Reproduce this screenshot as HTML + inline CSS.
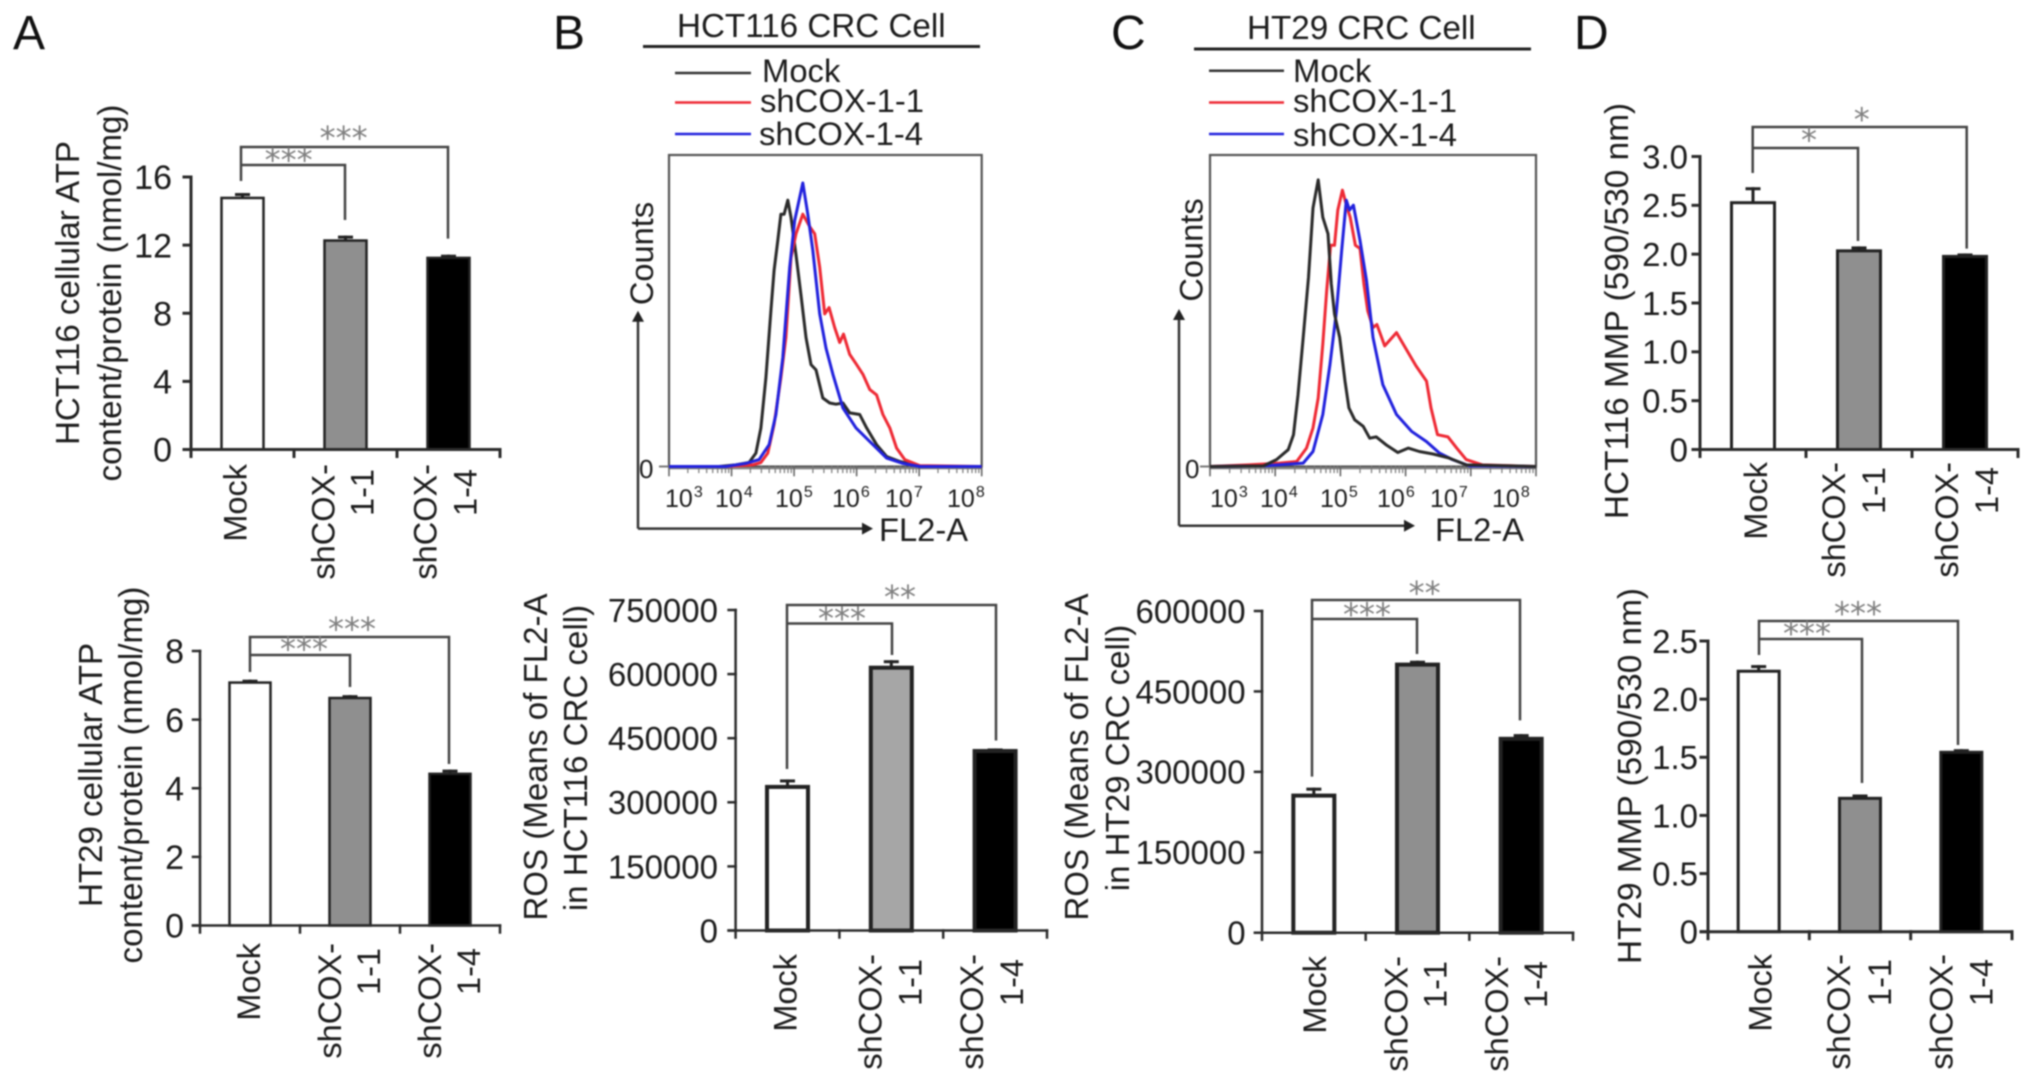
<!DOCTYPE html>
<html lang="en">
<head>
<meta charset="utf-8">
<title>ATP, ROS and MMP in shCOX-1 colorectal cancer cells</title>
<style>
html,body{margin:0;padding:0;background:#fff;width:2032px;height:1084px;overflow:hidden}
svg{display:block;filter:blur(0.8px)}
text{font-family:"Liberation Sans",Arial,sans-serif;fill:#1c1c1c}
.panel{font-size:48px;fill:#111}
.title{font-size:33.1px;text-anchor:middle}
.head{font-size:33.2px}
.leg{font-size:32.8px}
</style>
</head>
<body>
<svg id="figure" xmlns="http://www.w3.org/2000/svg" width="2032" height="1084" viewBox="0 0 2032 1084">
  <rect x="0" y="0" width="2032" height="1084" fill="#fff"/>

  <text class="panel" x="13" y="49">A</text>
  <text class="panel" x="553" y="49">B</text>
  <text class="panel" x="1111" y="49">C</text>
  <text class="panel" x="1574" y="49">D</text>

  <text class="title" transform="translate(79,293) rotate(-90)">HCT116 cellular ATP</text>
  <text class="title" transform="translate(121,293) rotate(-90)">content/protein (nmol/mg)</text>
  <text class="title" transform="translate(102,775) rotate(-90)">HT29 cellular ATP</text>
  <text class="title" transform="translate(142,775) rotate(-90)">content/protein (nmol/mg)</text>
  <text class="title" transform="translate(547,757) rotate(-90)">ROS (Means of FL2-A</text>
  <text class="title" transform="translate(587,758) rotate(-90)">in HCT116 CRC cell)</text>
  <text class="title" transform="translate(1088,757) rotate(-90)">ROS (Means of FL2-A</text>
  <text class="title" transform="translate(1129,758) rotate(-90)">in HT29 CRC cell)</text>
  <text class="title" style="font-size:33.4px" transform="translate(1628,311) rotate(-90)">HCT116 MMP (590/530 nm)</text>
  <text class="title" style="font-size:33.4px" transform="translate(1641,776) rotate(-90)">HT29 MMP (590/530 nm)</text>

  <text class="head" x="677" y="37">HCT116 CRC Cell</text>
  <line x1="643" y1="46.5" x2="980" y2="46.5" stroke="#222" stroke-width="3"/>
  <text class="head" x="1247" y="39">HT29 CRC Cell</text>
  <line x1="1194" y1="49" x2="1531" y2="49" stroke="#222" stroke-width="3"/>

  <line x1="675" y1="73" x2="751" y2="73" stroke="#333" stroke-width="2.5"/>
  <line x1="675" y1="102.5" x2="751" y2="102.5" stroke="#ee2a35" stroke-width="2.5"/>
  <line x1="675" y1="134" x2="751" y2="134" stroke="#2222dd" stroke-width="2.5"/>
  <text class="leg" x="762" y="82">Mock</text>
  <text class="leg" x="760" y="112">shCOX-1-1</text>
  <text class="leg" x="759" y="145">shCOX-1-4</text>

  <line x1="1209" y1="70.7" x2="1284" y2="70.7" stroke="#333" stroke-width="2.5"/>
  <line x1="1209" y1="102.5" x2="1284" y2="102.5" stroke="#ee2a35" stroke-width="2.5"/>
  <line x1="1209" y1="134" x2="1284" y2="134" stroke="#2222dd" stroke-width="2.5"/>
  <text class="leg" x="1293" y="82">Mock</text>
  <text class="leg" x="1293" y="112">shCOX-1-1</text>
  <text class="leg" x="1293" y="146">shCOX-1-4</text>

  <text class="title" style="font-size:32.6px" transform="translate(653,253.5) rotate(-90)">Counts</text>
  <text style="font-size:32.7px" x="879" y="541">FL2-A</text>
  <text class="title" style="font-size:32.6px" transform="translate(1202.7,250) rotate(-90)">Counts</text>
  <text style="font-size:32.7px" x="1435" y="541">FL2-A</text>
</svg>

<script>
/* ---------- bar chart data ---------- */
const barCategories = [['Mock'], ['shCOX-', '1-1'], ['shCOX-', '1-4']];

const a1Values = [14.77, 12.27, 11.25];
const a1Errors = [0.2, 0.2, 0.1];
const a1Ticks = [0, 4, 8, 12, 16];

const a2Values = [7.08, 6.63, 4.42];
const a2Errors = [0.04, 0.04, 0.08];
const a2Ticks = [0, 2, 4, 6, 8];

const bValues = [336000, 615000, 420000];
const bErrors = [14000, 14000, 2500];
const bTicks = [0, 150000, 300000, 450000, 600000, 750000];

const cValues = [255700, 500000, 361600];
const cErrors = [12000, 4500, 6000];
const cTicks = [0, 150000, 300000, 450000, 600000];

const d1Values = [2.527, 2.034, 1.977];
const d1Errors = [0.143, 0.03, 0.015];
const d1Ticks = ['0', '0.5', '1.0', '1.5', '2.0', '2.5', '3.0'];

const d2Values = [2.24, 1.147, 1.543];
const d2Errors = [0.04, 0.02, 0.014];
const d2Ticks = ['0', '0.5', '1.0', '1.5', '2.0', '2.5'];

/* ---------- flow cytometry data: log10(FL2-A) and % of plot height ---------- */
const flowExponents = [3, 4, 5, 6, 7, 8];

const bMockLog = [3.00,3.80,4.07,4.28,4.39,4.47,4.55,4.63,4.68,4.74,4.79,4.84,4.90,4.95,5.03,5.11,5.19,5.27,5.35,5.46,5.57,5.67,5.78,5.89,6.05,6.16,6.32,6.48,6.69,7.01,8.00];
const bMockCounts = [0,0,0.5,1.3,4.3,12.4,28.5,50,63,72.6,81,81,85.5,80,68,55,41.4,32.7,31,22,20.4,20,20.4,17.2,16.7,12.4,7,3.2,1.6,0,0];
const bSh1Log = [3.00,3.91,4.34,4.47,4.58,4.68,4.79,4.87,4.95,5.03,5.14,5.25,5.33,5.41,5.49,5.56,5.65,5.73,5.79,5.89,5.99,6.10,6.21,6.32,6.42,6.53,6.64,6.77,7.01,8.00];
const bSh1Counts = [0,0,0.5,1.3,4.3,13.5,28.5,41.4,67,74.7,81,77,74.7,64,49,51,44.6,39.8,42.5,36,33,29.6,24.7,23,16.7,12.4,5.9,2.2,0.3,0];
const bSh4Log = [3.00,3.91,4.23,4.44,4.60,4.71,4.82,4.93,5.01,5.14,5.22,5.30,5.41,5.51,5.62,5.78,5.99,6.21,6.48,6.74,7.01,8.00];
const bSh4Counts = [0,0,1,2.2,7,16.7,35,64,79,91,81,69.4,49,38,29.6,18.8,12.4,8,2.7,1,0,0];

const cMockLog = [3.00,3.82,4.02,4.20,4.28,4.35,4.43,4.51,4.58,4.66,4.73,4.81,4.86,4.91,4.99,5.07,5.13,5.22,5.35,5.45,5.55,5.70,5.88,6.04,6.21,6.42,6.67,6.93,8.00];
const cMockCounts = [0,0.2,2.2,5.4,10.2,23,41.4,60.7,83,92,80,74.7,58.6,49,41.4,27.4,18.8,15,12.9,9.1,9.5,7,4.5,5.9,4.8,4,2.7,0.5,0];
const cSh1Log = [3.00,3.59,4.07,4.33,4.48,4.58,4.66,4.73,4.79,4.85,4.91,4.96,5.03,5.10,5.15,5.23,5.30,5.36,5.42,5.50,5.56,5.68,5.86,6.01,6.16,6.32,6.39,6.49,6.65,6.78,6.93,7.18,8.00];
const cSh1Counts = [0,0.5,1.1,1.6,5.9,12.4,22,39.3,56.5,71,71,82.3,88.7,83.3,80,71,70,58.6,49.9,44.6,45.6,38.7,43,37.6,32.3,27.4,18.8,10.2,9.5,6,2.2,0.5,0];
const cSh4Log = [3.00,3.82,4.43,4.58,4.73,4.84,4.94,5.02,5.09,5.14,5.20,5.30,5.40,5.50,5.65,5.86,6.09,6.32,6.52,6.72,6.98,8.00];
const cSh4Counts = [0,0.2,1.1,4.8,16.7,32.8,50,69.4,85.5,82.3,83.9,72.6,59.7,41.4,26.3,16.7,11.3,8,4.3,2.2,0.2,0];

/* ---------- helpers ---------- */
const svg = document.getElementById('figure');
const NS = 'http://www.w3.org/2000/svg';

function draw(tag, name, attrs, txt) {
  const el = document.createElementNS(NS, tag);
  
  
  for (const k in attrs) el.setAttribute(k, attrs[k]);
  if (txt !== undefined) el.textContent = txt;
  svg.appendChild(el);
  return el;
}
function hairline(name, x1, y1, x2, y2, stroke, w) {
  return draw('line', name, {x1: x1, y1: y1, x2: x2, y2: y2, stroke: stroke, 'stroke-width': w, 'stroke-linecap': 'square'});
}

/* ---------- bar panels ---------- */
function barPanel(id, values, errors, ticks, layout) {
  const yMax = Number(ticks[ticks.length - 1]);
  const yScale = v => layout.y0 - (v / yMax) * (layout.y0 - layout.yTop);
  const band = (layout.xEnd - layout.axisX) / values.length;
  const xCenter = i => layout.axisX + band * (i + 0.5) + layout.barShift;
  const axisW = layout.axisWidth;

  values.forEach(function (v, i) {
    const cx = xCenter(i);
    const top = yScale(v);
    const errTop = yScale(v + errors[i]);
    hairline(id + '-error-bar-' + i, cx, top, cx, errTop, '#222', 3);
    hairline(id + '-error-cap-' + i, cx - 6, errTop, cx + 6, errTop, '#222', 3);
    draw('rect', id + '-bar-' + i, {
      x: cx - layout.barW / 2, y: top, width: layout.barW, height: layout.y0 - top,
      fill: layout.fills[i], stroke: '#222', 'stroke-width': layout.barStroke
    });
  });

  hairline(id + '-y-axis', layout.axisX, layout.yTop, layout.axisX, layout.y0, '#2b2b2b', axisW);
  hairline(id + '-x-axis', layout.axisX - 7, layout.y0, layout.xEnd, layout.y0, '#2b2b2b', axisW);

  ticks.forEach(function (t) {
    const y = yScale(Number(t));
    hairline(id + '-y-tick', layout.axisX - 7, y, layout.axisX, y, '#2b2b2b', axisW);
    draw('text', id + '-y-tick-label', {
      x: layout.tickRight, y: y + layout.tickFont * 0.36, 'text-anchor': 'end', 'font-size': layout.tickFont
    }, String(t));
  });

  for (let i = 0; i <= values.length; i++) {
    const x = layout.axisX + band * i;
    hairline(id + '-x-tick', x, layout.y0, x, layout.y0 + 7, '#2b2b2b', axisW);
  }

  barCategories.forEach(function (lines, i) {
    lines.forEach(function (line, j) {
      const bx = layout.axisX + band * (i + 0.5) + layout.labelDx[i][j];
      const by = j === 0 ? layout.labelEnd : layout.labelEnd + 5;
      draw('text', id + '-category-label', {
        transform: 'translate(' + bx + ',' + by + ') rotate(-90)', 'text-anchor': 'end', 'font-size': 32.5
      }, line);
    });
  });

  layout.brackets.forEach(function (b, i) {
    const d = 'M' + b.left + ' ' + b.leftEnd + ' V' + b.y + ' H' + b.right + ' V' + b.rightEnd;
    draw('path', id + '-significance-bracket-' + i, {d: d, fill: 'none', stroke: '#444', 'stroke-width': 2.5});
    draw('text', id + '-significance-stars-' + i, {
      x: b.starX, y: b.starY + 16, 'text-anchor': 'middle', 'font-size': 32,
      style: 'font-family:"DejaVu Sans",sans-serif;fill:#808080'
    }, b.stars);
  });
}

barPanel('a1', a1Values, a1Errors, a1Ticks, {
  axisX: 191, xEnd: 500, y0: 449.5, yTop: 177, barShift: 0, barW: 42, barStroke: 2.5, axisWidth: 3,
  fills: ['#fff', '#8f8f8f', '#000'], tickRight: 172, tickFont: 34, labelEnd: 464,
  labelDx: [[4], [-11, 28], [-12, 28]],
  brackets: [
    {left: 241, right: 448, y: 147, leftEnd: 181, rightEnd: 238.6, stars: '***', starX: 343.6, starY: 133},
    {left: 241, right: 345, y: 165, leftEnd: 165, rightEnd: 220, stars: '***', starX: 288.6, starY: 155}
  ]
});
barPanel('a2', a2Values, a2Errors, a2Ticks, {
  axisX: 200, xEnd: 500, y0: 925.5, yTop: 651, barShift: 0, barW: 41, barStroke: 2.5, axisWidth: 2.5,
  fills: ['#fff', '#8f8f8f', '#000'], tickRight: 184, tickFont: 34, labelEnd: 943,
  labelDx: [[10], [-9, 30], [-9, 30]],
  brackets: [
    {left: 250, right: 449, y: 637, leftEnd: 672, rightEnd: 764, stars: '***', starX: 352, starY: 624},
    {left: 250, right: 350, y: 655, leftEnd: 655, rightEnd: 687, stars: '***', starX: 304, starY: 644}
  ]
});
barPanel('b', bValues, bErrors, bTicks, {
  axisX: 735.6, xEnd: 1047, y0: 930.5, yTop: 610, barShift: 0, barW: 41, barStroke: 4, axisWidth: 2.5,
  fills: ['#fff', '#a6a6a6', '#000'], tickRight: 718, tickFont: 33, labelEnd: 954,
  labelDx: [[9], [-10, 30], [-12, 28]],
  brackets: [
    {left: 787, right: 996, y: 605, leftEnd: 769, rightEnd: 740.5, stars: '**', starX: 900, starY: 592},
    {left: 787, right: 892, y: 623.5, leftEnd: 623.5, rightEnd: 655, stars: '***', starX: 842, starY: 613.5}
  ]
});
barPanel('c', cValues, cErrors, cTicks, {
  axisX: 1262, xEnd: 1573, y0: 932.7, yTop: 611, barShift: 0, barW: 41, barStroke: 4, axisWidth: 2.5,
  fills: ['#fff', '#8f8f8f', '#000'], tickRight: 1245.6, tickFont: 33, labelEnd: 956,
  labelDx: [[12], [-10, 29], [-13, 26]],
  brackets: [
    {left: 1312, right: 1520, y: 600, leftEnd: 776.6, rightEnd: 720.4, stars: '**', starX: 1424.6, starY: 588},
    {left: 1312, right: 1417, y: 619, leftEnd: 619, rightEnd: 654, stars: '***', starX: 1367, starY: 609.5}
  ]
});
barPanel('d1', d1Values, d1Errors, d1Ticks, {
  axisX: 1700, xEnd: 2018, y0: 449.5, yTop: 156.5, barShift: 0, barW: 43, barStroke: 3, axisWidth: 3,
  fills: ['#fff', '#8f8f8f', '#000'], tickRight: 1688, tickFont: 33, labelEnd: 462,
  labelDx: [[14], [-14, 26], [-7, 33]],
  brackets: [
    {left: 1752.7, right: 1966.7, y: 127, leftEnd: 173, rightEnd: 248.6, stars: '*', starX: 1861.7, starY: 114.7},
    {left: 1752.7, right: 1858, y: 148, leftEnd: 148, rightEnd: 241, stars: '*', starX: 1809, starY: 135}
  ]
});
barPanel('d2', d2Values, d2Errors, d2Ticks, {
  axisX: 1708, xEnd: 2012, y0: 931.7, yTop: 641, barShift: 0, barW: 41, barStroke: 3, axisWidth: 3,
  fills: ['#fff', '#8f8f8f', '#000'], tickRight: 1698, tickFont: 33, labelEnd: 954,
  labelDx: [[13], [-10, 31], [-9, 31]],
  brackets: [
    {left: 1759, right: 1958, y: 621, leftEnd: 655, rightEnd: 745, stars: '***', starX: 1858, starY: 608.5},
    {left: 1759, right: 1862, y: 639, leftEnd: 639, rightEnd: 783, stars: '***', starX: 1807, starY: 628.5}
  ]
});

/* ---------- flow histograms ---------- */
function flowPanel(id, series, layout) {
  const xScale = d => layout.left + (d - 3) / 5 * (layout.right - layout.left);
  const yScale = c => layout.base - (c / 100) * (layout.base - layout.top);

  draw('rect', id + '-plot-frame', {
    x: layout.left, y: layout.top, width: layout.right - layout.left, height: layout.base - layout.top,
    fill: '#fff', stroke: '#555', 'stroke-width': 2.2
  });

  hairline(id + '-zero-tick', layout.left - 9, layout.base, layout.left, layout.base, '#777', 2);
  draw('text', id + '-zero-label', {x: layout.zeroX, y: 478, 'font-size': 26}, '0');
  hairline(id + '-x-tick-rule', layout.left, layout.base + 2, layout.right, layout.base + 2, '#777', 1.5);

  flowExponents.forEach(function (e, i) {
    const mx = xScale(e);
    hairline(id + '-x-major-tick', mx, layout.base, mx, layout.base + 9, '#666', 1.6);
    if (e < 8) {
      for (let m = 2; m <= 9; m++) {
        const tx = xScale(e + Math.log10(m));
        hairline(id + '-x-minor-tick', tx, layout.base, tx, layout.base + 6, '#777', 1.2);
      }
    }
    const label = draw('text', id + '-x-tick-label', {x: layout.labelX[i], y: 507, 'font-size': 25});
    const base = document.createElementNS(NS, 'tspan');
    base.textContent = '10';
    label.appendChild(base);
    const sup = document.createElementNS(NS, 'tspan');
    sup.setAttribute('font-size', '16');
    sup.setAttribute('dy', '-10');
    sup.setAttribute('dx', '1');
    sup.textContent = String(e);
    label.appendChild(sup);
  });

  series.forEach(function (s) {
    const pts = s.log.map(function (d, i) { return xScale(d).toFixed(1) + ',' + yScale(s.counts[i]).toFixed(1); }).join(' ');
    draw('polyline', id + '-histogram-' + s.name, {
      points: pts, fill: 'none', stroke: s.color, 'stroke-width': 3, 'stroke-linejoin': 'round'
    });
  });

  const a = layout.arrow;
  draw('path', id + '-counts-arrow', {
    d: 'M' + a.x + ' ' + a.bottom + ' V' + (a.top + 6), fill: 'none', stroke: '#333', 'stroke-width': 2.5
  });
  draw('path', id + '-counts-arrowhead', {
    d: 'M' + a.x + ' ' + a.top + ' l-6 11 h12 z', fill: '#222'
  });
  draw('path', id + '-fl2-arrow', {
    d: 'M' + a.x + ' ' + a.bottom + ' H' + (a.end - 6), fill: 'none', stroke: '#333', 'stroke-width': 2.5
  });
  draw('path', id + '-fl2-arrowhead', {
    d: 'M' + a.end + ' ' + a.bottom + ' l-11 -6 v12 z', fill: '#222'
  });
}

flowPanel('b', [
  {name: 'mock', log: bMockLog, counts: bMockCounts, color: '#2a2a2a'},
  {name: 'shcox-1-1', log: bSh1Log, counts: bSh1Counts, color: '#ee2a35'},
  {name: 'shcox-1-4', log: bSh4Log, counts: bSh4Counts, color: '#2222dd'}
], {
  left: 669, right: 981.7, top: 155, base: 466.5, zeroX: 639,
  labelX: [665, 715, 775, 832, 885, 947],
  arrow: {x: 638, top: 310.7, bottom: 528.6, end: 873}
});
flowPanel('c', [
  {name: 'shcox-1-1', log: cSh1Log, counts: cSh1Counts, color: '#ee2a35'},
  {name: 'shcox-1-4', log: cSh4Log, counts: cSh4Counts, color: '#2222dd'},
  {name: 'mock', log: cMockLog, counts: cMockCounts, color: '#2a2a2a'}
], {
  left: 1210, right: 1536, top: 155, base: 466.5, zeroX: 1185,
  labelX: [1210, 1260, 1320, 1377, 1430, 1492],
  arrow: {x: 1179, top: 309, bottom: 525.7, end: 1415}
});
</script>
</body>
</html>
